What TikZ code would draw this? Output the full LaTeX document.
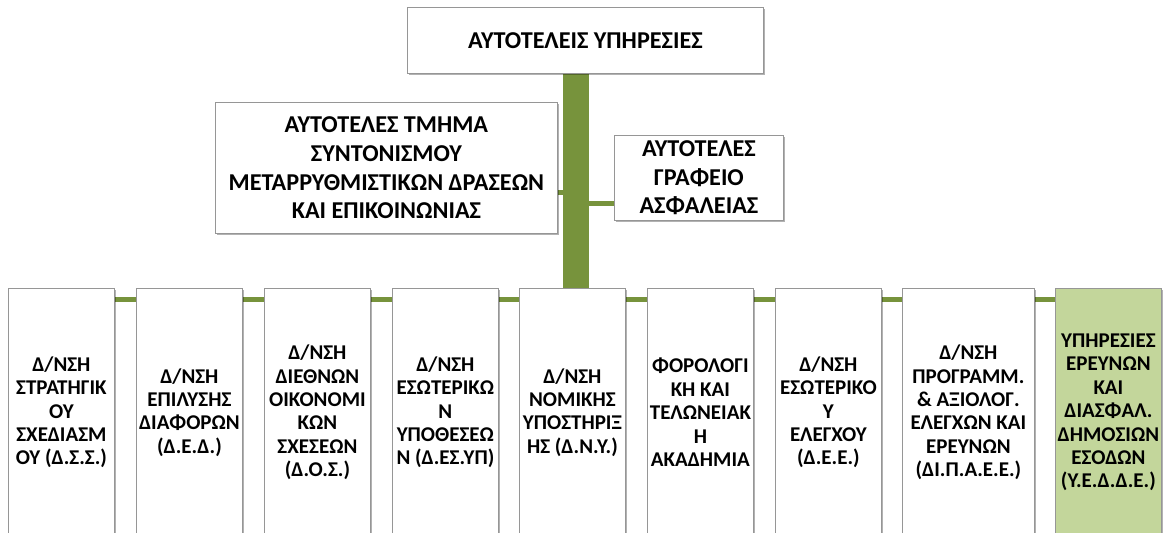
\documentclass[tikz,border=0pt]{standalone}
\usepackage{fontspec}
\setmainfont{Carlito}
\usetikzlibrary{shadows,backgrounds}
\definecolor{olive}{RGB}{119,147,60}
\definecolor{palegreen}{RGB}{195,214,155}
\definecolor{boxline}{RGB}{150,150,150}
\tikzset{
  unit/.style={draw=boxline, fill=white, line width=0.8pt, inner sep=0pt, align=center, anchor=north west,
    drop shadow={shadow xshift=1.5pt, shadow yshift=-2pt, opacity=0.3, fill=black}},
  big/.style={font=\fontsize{24.2}{28.7}\selectfont\bfseries},
  small/.style={font=\fontsize{21}{23.4}\selectfont\bfseries, minimum height=248pt, minimum width=106pt},
  link/.style={olive, line width=5pt},
  trunk/.style={olive, line width=26pt},
}
\begin{document}
\begin{tikzpicture}[x=1pt,y=-1pt]
\clip (0,0) rectangle (1163,533);
\node[unit,big,minimum width=356pt,minimum height=66pt] (top) at (407,7) {ΑΥΤΟΤΕΛΕΙΣ ΥΠΗΡΕΣΙΕΣ};
\node[unit,big,minimum width=342pt,minimum height=131pt] (tmima) at (215,102) {ΑΥΤΟΤΕΛΕΣ ΤΜΗΜΑ\\ΣΥΝΤΟΝΙΣΜΟΥ\\ΜΕΤΑΡΡΥΘΜΙΣΤΙΚΩΝ ΔΡΑΣΕΩΝ\\ΚΑΙ ΕΠΙΚΟΙΝΩΝΙΑΣ};
\node[unit,big,minimum width=169pt,minimum height=85pt] (grafeio) at (614,135) {ΑΥΤΟΤΕΛΕΣ\\ΓΡΑΦΕΙΟ\\ΑΣΦΑΛΕΙΑΣ};

% directorates
\node[unit,small] (d1) at (8,288) {Δ/ΝΣΗ\\ΣΤΡΑΤΗΓΙΚ\\ΟΥ\\ΣΧΕΔΙΑΣΜ\\ΟΥ (Δ.Σ.Σ.)};
\node[unit,small] (d2) at (136,288) {Δ/ΝΣΗ\\ΕΠΙΛΥΣΗΣ\\ΔΙΑΦΟΡΩΝ\\(Δ.Ε.Δ.)};
\node[unit,small] (d3) at (264,288) {Δ/ΝΣΗ\\ΔΙΕΘΝΩΝ\\ΟΙΚΟΝΟΜΙ\\ΚΩΝ\\ΣΧΕΣΕΩΝ\\(Δ.Ο.Σ.)};
\node[unit,small] (d4) at (392,288) {Δ/ΝΣΗ\\ΕΣΩΤΕΡΙΚΩ\\Ν\\ΥΠΟΘΕΣΕΩ\\Ν (Δ.ΕΣ.ΥΠ)};
\node[unit,small] (d5) at (519,288) {Δ/ΝΣΗ\\ΝΟΜΙΚΗΣ\\ΥΠΟΣΤΗΡΙΞ\\ΗΣ (Δ.Ν.Υ.)};
\node[unit,small] (d6) at (647,288) {ΦΟΡΟΛΟΓΙ\\ΚΗ ΚΑΙ\\ΤΕΛΩΝΕΙΑΚ\\Η\\ΑΚΑΔΗΜΙΑ};
\node[unit,small] (d7) at (775,288) {Δ/ΝΣΗ\\ΕΣΩΤΕΡΙΚΟ\\Υ\\ΕΛΕΓΧΟΥ\\(Δ.Ε.Ε.)};
\node[unit,small,minimum width=132pt] (d8) at (902,288) {Δ/ΝΣΗ\\ΠΡΟΓΡΑΜΜ.\\\& ΑΞΙΟΛΟΓ.\\ΕΛΕΓΧΩΝ ΚΑΙ\\ΕΡΕΥΝΩΝ\\(ΔΙ.Π.Α.Ε.Ε.)};
\node[unit,small,fill=palegreen] (d9) at (1055,288) {ΥΠΗΡΕΣΙΕΣ\\ΕΡΕΥΝΩΝ\\ΚΑΙ\\ΔΙΑΣΦΑΛ.\\ΔΗΜΟΣΙΩΝ\\ΕΣΟΔΩΝ\\(Υ.Ε.Δ.Δ.Ε.)};

\coordinate (s) at (576,299);
\coordinate (ja) at (576,192);
\coordinate (jb) at (576,203);
\begin{scope}[on background layer]
\draw[trunk] (top.south -| s) -- (s);
\draw[link] (tmima.east |- ja) -- (ja);
\draw[link] (jb) -- (grafeio.west |- jb);
\draw[link] (d1.center |- s) -- (d9.center |- s);
\end{scope}
\end{tikzpicture}
\end{document}
